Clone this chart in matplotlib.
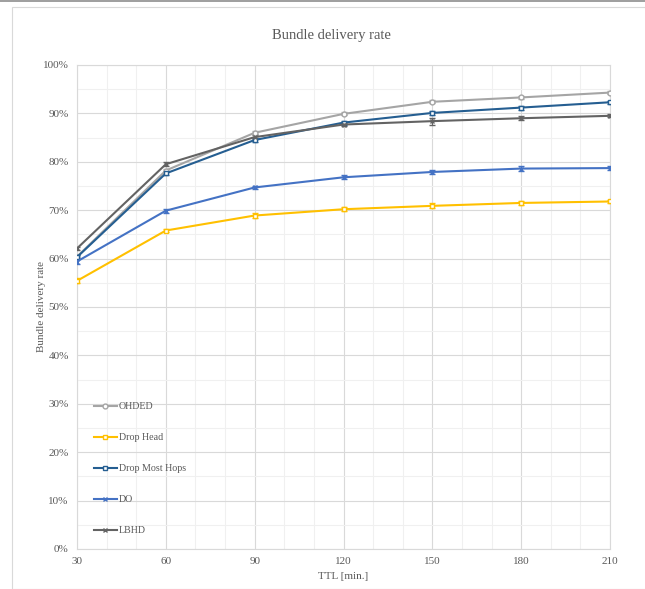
import matplotlib.pyplot as plt
from matplotlib.patches import Rectangle
from matplotlib.lines import Line2D
from matplotlib.ticker import MultipleLocator, FuncFormatter

plt.rcParams['font.family'] = ['Liberation Serif', 'DejaVu Serif']

ttl = [30, 60, 90, 120, 150, 180, 210]

ohded = [60.4, 78.2, 86.0, 89.9, 92.4, 93.3, 94.3]
drop_head = [55.4, 65.8, 68.9, 70.2, 70.9, 71.5, 71.8]
drop_most_hops = [60.3, 77.6, 84.5, 88.1, 90.1, 91.2, 92.3]
do = [59.4, 69.9, 74.7, 76.8, 77.9, 78.6, 78.7]
lbhd = [62.1, 79.5, 85.1, 87.7, 88.4, 89.0, 89.5]

# small error bars
err_ohded = [0.3, 0.3, 0.3, 0.3, 0.3, 0.3, 0.3]
err_dh = [0.5, 0.4, 0.5, 0.4, 0.5, 0.5, 0.4]
err_dmh = [0.4, 0.4, 0.4, 0.4, 0.4, 0.4, 0.3]
err_do = [0.5, 0.4, 0.4, 0.4, 0.5, 0.6, 0.4]
err_lbhd = [0.4, 0.4, 0.4, 0.4, 0.7, 0.4, 0.3]

series = [
    ("OHDED", ohded, err_ohded, "#A5A5A5", "o"),
    ("Drop Head", drop_head, err_dh, "#FFC000", "s"),
    ("Drop Most Hops", drop_most_hops, err_dmh, "#255E91", "s"),
    ("DO", do, err_do, "#4472C4", "x"),
    ("LBHD", lbhd, err_lbhd, "#636363", "x"),
]

fig = plt.figure(figsize=(6.45, 5.89), dpi=100, facecolor="w")

# chart frame
fig.patches.append(Rectangle((12 / 645, 0.0), 1.0, 1 - 7 / 589, transform=fig.transFigure,
                             fill=False, edgecolor="#D9D9D9", lw=0.8))
fig.patches.append(Rectangle((0, 1 - 2 / 589), 1.0, 2 / 589, transform=fig.transFigure,
                             facecolor="#A0A0A0", edgecolor="none"))

ax = fig.add_axes([77 / 645, 1 - 549 / 589, (610 - 77) / 645, (549 - 65) / 589])

handles = []
for name, vals, err, col, mk in series:
    mfc = "white" if mk != "x" else col
    ax.errorbar(ttl, vals, yerr=err, color=col, lw=1.5, marker=mk, ms=3.5,
                mfc=mfc, mec=col, mew=1.0,
                capsize=2, elinewidth=0.8, zorder=3)
    handles.append(Line2D([], [], color=col, lw=1.5, marker=mk, ms=3.5,
                          mfc=mfc, mec=col, mew=1.0, label=name))

ax.set_xlim(30, 210)
ax.set_ylim(0, 100)
ax.xaxis.set_major_locator(MultipleLocator(30))
ax.xaxis.set_minor_locator(MultipleLocator(10))
ax.yaxis.set_major_locator(MultipleLocator(10))
ax.yaxis.set_minor_locator(MultipleLocator(5))
ax.yaxis.set_major_formatter(FuncFormatter(lambda v, p: f"{int(v)}%"))
ax.grid(which="major", color="#D9D9D9", lw=0.8)
ax.grid(which="minor", color="#F0F0F0", lw=0.8)
ax.set_axisbelow(True)
ax.tick_params(which="both", length=0, labelsize=8, colors="#595959", pad=6)
for s in ax.spines.values():
    s.set_color("#D9D9D9")

# title centred on the chart frame, not the plot area
fig.text(331 / 645, 1 - 35 / 589, "Bundle delivery rate", fontsize=10.5, color="#595959",
         ha="center", va="center")
ax.set_xlabel("TTL [min.]", fontsize=8, color="#595959", labelpad=4)
ax.set_ylabel("Bundle delivery rate", fontsize=8, color="#595959", labelpad=-2)

ax.legend(handles=handles, loc="lower left", bbox_to_anchor=(0.015, 0.01), frameon=False,
          fontsize=7.2, labelspacing=2.2, handlelength=2.3, handletextpad=0.2,
          labelcolor="#595959")

fig.savefig("out.png", dpi=100)
